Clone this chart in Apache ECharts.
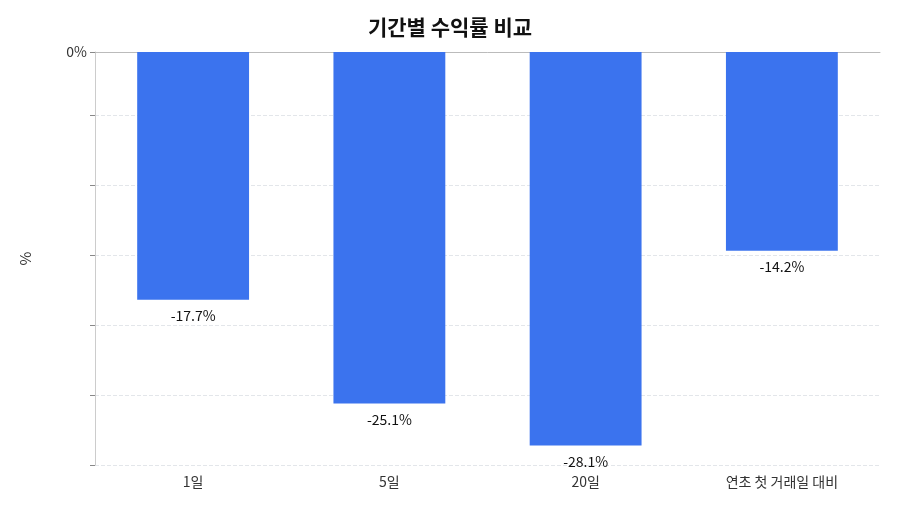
<!DOCTYPE html><html><head><meta charset="utf-8"><script src="https://cdn.jsdelivr.net/npm/echarts@6/dist/echarts.min.js"></script></head><body style="margin:0"><div id="c" style="width:900px;height:514px"></div><script>
const categories=['1일','5일','20일','연초 첫 거래일 대비'];
const values=[-17.7,-25.1,-28.1,-14.2];
const F='"Noto Sans CJK KR","Noto Sans",sans-serif';
const ch=echarts.init(document.getElementById('c'));
ch.setOption({
title:{text:'기간별 수익률 비교',left:'center',top:12,textStyle:{fontFamily:F,fontSize:21,fontWeight:'bold',color:'#111'}},
grid:{left:95,right:20,top:52,bottom:49},
xAxis:{type:'category',data:categories,axisLine:{lineStyle:{color:'#bbb'}},axisTick:{lineStyle:{color:'#888'}},axisLabel:{fontFamily:F,fontSize:14,color:'#333',margin:10}},
yAxis:{type:'value',min:-29.5,max:0,interval:5,name:'%',nameLocation:'middle',nameGap:62,nameTextStyle:{fontFamily:F,fontSize:15,color:'#333'},
axisLine:{show:true,lineStyle:{color:'#ccc'}},axisTick:{show:true,lineStyle:{color:'#888'}},
axisLabel:{fontFamily:F,fontSize:14,color:'#333',formatter:v=>(Math.abs(v%5)<1e-9?v+'%':'')},
splitLine:{lineStyle:{type:'dashed',color:'#e3e6ea'}}},
series:[{type:'bar',data:values,barWidth:'57%',itemStyle:{color:'#3b73ee'},
label:{show:true,position:'bottom',distance:9,formatter:p=>p.value.toFixed(1)+'%',fontFamily:F,fontSize:14,color:'#111'}}]
});
</script></body></html>
